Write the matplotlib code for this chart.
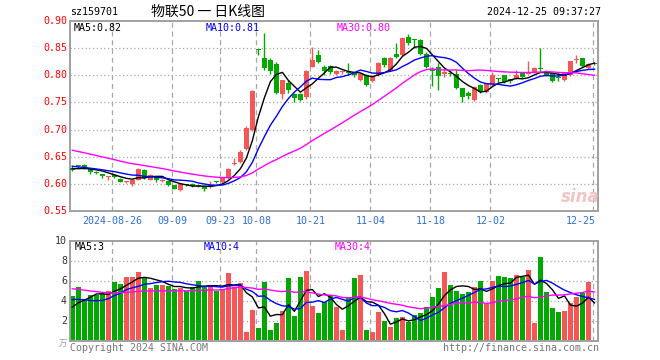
import matplotlib
matplotlib.use("Agg")
import matplotlib.pyplot as plt
import numpy as np
import pandas as pd

# trading days 2024-08-15 .. 2024-12-25 (mid-autumn + national day closed)
holidays = ["2024-09-16", "2024-09-17"] + [f"2024-10-0{d}" for d in range(1, 8)]
days = [d for d in pd.bdate_range("2024-08-15", "2024-12-25") if d.strftime("%Y-%m-%d") not in holidays]
dates = [d.strftime("%m-%d") for d in days]

open_ = [0.630, 0.633, 0.634, 0.627, 0.622, 0.618, 0.612, 0.616, 0.609, 0.604,
         0.599, 0.608, 0.626, 0.608, 0.612, 0.606, 0.605, 0.597, 0.588, 0.598,
         0.599, 0.597, 0.596, 0.594, 0.605, 0.604, 0.610, 0.637, 0.640, 0.664,
         0.699, 0.848, 0.831, 0.828, 0.821, 0.765, 0.785, 0.765, 0.765, 0.760,
         0.816, 0.837, 0.815, 0.817, 0.803, 0.806, 0.806, 0.8035, 0.791, 0.800,
         0.790, 0.800, 0.831, 0.810, 0.840, 0.837, 0.870, 0.866, 0.865, 0.8386,
         0.811, 0.8157, 0.802, 0.804, 0.8022, 0.7758, 0.7666, 0.7543, 0.782, 0.7696,
         0.782, 0.7945, 0.8004, 0.7925, 0.7955, 0.8035, 0.8028, 0.806, 0.8139, 0.8078,
         0.8035, 0.795, 0.7911, 0.8004, 0.8275, 0.8311, 0.8127, 0.822]
high = [0.632, 0.635, 0.636, 0.628, 0.624, 0.619, 0.615, 0.617, 0.610, 0.606,
        0.608, 0.630, 0.627, 0.618, 0.613, 0.609, 0.606, 0.598, 0.600, 0.599,
        0.602, 0.598, 0.597, 0.605, 0.606, 0.611, 0.629, 0.648, 0.662, 0.706,
        0.772, 0.848, 0.878, 0.832, 0.825, 0.792, 0.791, 0.768, 0.767, 0.810,
        0.853, 0.847, 0.819, 0.819, 0.810, 0.810, 0.822, 0.806, 0.804, 0.803,
        0.800, 0.825, 0.833, 0.833, 0.859, 0.870, 0.876, 0.866, 0.867, 0.843,
        0.816, 0.822, 0.811, 0.8096, 0.8096, 0.777, 0.7715, 0.780, 0.784, 0.786,
        0.8066, 0.7945, 0.801, 0.793, 0.8096, 0.805, 0.826, 0.815, 0.8496, 0.810,
        0.804, 0.8035, 0.806, 0.827, 0.8373, 0.832, 0.822, 0.824]
low = [0.624, 0.630, 0.628, 0.618, 0.619, 0.610, 0.608, 0.611, 0.603, 0.601,
       0.596, 0.607, 0.609, 0.607, 0.604, 0.604, 0.596, 0.590, 0.587, 0.596,
       0.594, 0.595, 0.586, 0.593, 0.602, 0.602, 0.609, 0.634, 0.639, 0.663,
       0.698, 0.837, 0.810, 0.803, 0.766, 0.757, 0.767, 0.751, 0.752, 0.756,
       0.815, 0.822, 0.800, 0.803, 0.800, 0.802, 0.800, 0.797, 0.789, 0.780,
       0.788, 0.799, 0.816, 0.808, 0.832, 0.835, 0.856, 0.850, 0.838, 0.814,
       0.780, 0.773, 0.796, 0.7985, 0.775, 0.751, 0.757, 0.752, 0.768, 0.768,
       0.781, 0.7883, 0.786, 0.786, 0.794, 0.795, 0.802, 0.805, 0.8085, 0.799,
       0.788, 0.790, 0.790, 0.799, 0.822, 0.816, 0.812, 0.819]
close = [0.625, 0.632, 0.630, 0.622, 0.620, 0.615, 0.614, 0.613, 0.604, 0.605,
         0.607, 0.628, 0.610, 0.616, 0.608, 0.607, 0.597, 0.591, 0.599, 0.597,
         0.596, 0.596, 0.591, 0.597, 0.604, 0.610, 0.628, 0.638, 0.659, 0.702,
         0.771, 0.847, 0.813, 0.808, 0.768, 0.791, 0.773, 0.7585, 0.754, 0.808,
         0.828, 0.824, 0.808, 0.8065, 0.808, 0.807, 0.805, 0.800, 0.802, 0.782,
         0.798, 0.822, 0.819, 0.831, 0.834, 0.868, 0.860, 0.865, 0.839, 0.8157,
         0.808, 0.7985, 0.806, 0.803, 0.7758, 0.7592, 0.7616, 0.7788, 0.7696, 0.785,
         0.8004, 0.794, 0.788, 0.7888, 0.8004, 0.796, 0.8047, 0.8139, 0.8108, 0.8004,
         0.7899, 0.7943, 0.8047, 0.8262, 0.8285, 0.817, 0.8207, 0.820]
volume = [4.5, 5.4, 4.2, 4.57, 4.57, 4.67, 5.0, 5.83, 5.67, 6.4,
          6.4, 6.83, 6.27, 5.23, 5.6, 5.6, 5.43, 5.13, 5.23, 5.0,
          5.4, 6.0, 5.5, 5.5, 5.0, 5.2, 6.73, 5.33, 5.73, 0.9,
          3.1, 1.23, 5.83, 1.1, 1.73, 3.0, 6.23, 2.5, 6.33, 7.0,
          3.43, 2.73, 3.9, 4.6, 3.33, 1.1, 4.4, 6.23, 6.6, 1.1,
          0.83, 2.9, 2.0, 1.33, 2.23, 2.33, 1.9, 2.6, 2.73, 3.33,
          4.33, 5.23, 6.83, 5.6, 5.0, 4.67, 4.9, 5.33, 5.93, 3.73,
          5.93, 6.5, 6.33, 6.23, 6.6, 6.4, 7.1, 1.77, 8.33, 4.9,
          3.23, 2.83, 3.0, 3.73, 4.4, 4.73, 5.83, 0.1]
# sessions before 08-15, only feed the moving averages
prior_close = [0.705, 0.700, 0.698, 0.695, 0.690, 0.688, 0.692, 0.685, 0.680, 0.676,
               0.672, 0.668, 0.670, 0.665, 0.662, 0.660, 0.664, 0.658, 0.655, 0.652,
               0.645, 0.640, 0.636, 0.633, 0.631, 0.632, 0.628, 0.627, 0.628]
prior_volume = [6.9, 6.7, 7.0, 6.6, 6.8, 6.8, 5.5, 5.0, 5.6, 5.2,
                4.9, 5.4, 5.3, 5.1, 5.6, 5.0, 5.2, 5.4, 5.1, 5.0,
                5.3, 4.6, 5.2, 4.8, 4.45, 3.2, 2.9, 3.1, 2.95]

tick_dates = ["08-26", "09-09", "09-23", "10-08", "10-21", "11-04", "11-18", "12-02", "12-25"]
tick_text = ["2024-08-26", "09-09", "09-23", "10-08", "10-21", "11-04", "11-18", "12-02", "12-25"]
price_ticks = [0.55, 0.60, 0.65, 0.70, 0.75, 0.80, 0.85, 0.90]
vol_ticks = [2, 4, 6, 8, 10]

RED, GREEN = "#f55757", "#00a800"
GRID = "#a8a8a8"
MONO = "DejaVu Sans Mono"
FS = 7.2
W, H = 660, 360


def rect(x0, y0, x1, y1):
    return [x0 / W, 1 - y1 / H, (x1 - x0) / W, (y1 - y0) / H]


def ma(series, prior, n):
    s = pd.Series(prior + series).rolling(n).mean().to_numpy()
    return s[len(prior):]


fig = plt.figure(figsize=(6.6, 3.6), dpi=100)
ax = fig.add_axes(rect(70, 21, 597.5, 211))
axv = fig.add_axes(rect(70, 240.5, 597.5, 340.5))

x = np.arange(len(close))
o, c, h, l = map(np.array, (open_, close, high, low))
up = c >= o
cols = np.where(up, RED, GREEN)
grid_x = [dates.index(d) - 0.33 for d in tick_dates]

for a in (ax, axv):
    a.set_xlim(-0.38, 87.5)
    a.set_xticks([]); a.set_yticks([])
    for s in a.spines.values():
        s.set_color("#a0a0a0"); s.set_linewidth(1.4)
    for gx in grid_x:
        a.axvline(gx, color=GRID, lw=0.9, ls=(0, (4, 3)), zorder=0)

ax.set_ylim(0.55, 0.90)
for p in price_ticks[1:-1]:
    ax.axhline(p, color=GRID, lw=0.9, ls=(0, (1, 2)), zorder=0)
axv.set_ylim(0, 10)
for v in vol_ticks[:-1]:
    axv.axhline(v, color=GRID, lw=0.9, ls=(0, (1, 2)), zorder=0)

# candles
ax.vlines(x, l, h, colors=cols, lw=1.0, zorder=2)
body = np.maximum(np.abs(c - o), 0.0019)
ax.bar(x, body, 0.75, bottom=np.minimum(o, c), color=cols, lw=0, zorder=3)

closes = list(close)
ax.plot(x, ma(closes, prior_close, 5), color="black", lw=1.0, zorder=4)
ax.plot(x, ma(closes, prior_close, 10), color="#0000ff", lw=1.0, zorder=4)
ax.plot(x, ma(closes, prior_close, 30), color="#ff00ff", lw=1.0, zorder=4)

axv.bar(x, volume, 0.82, color=cols, lw=0, zorder=2)
axv.plot(x, ma(volume, prior_volume, 5), color="black", lw=1.0, zorder=4)
axv.plot(x, ma(volume, prior_volume, 10), color="#0000ff", lw=1.0, zorder=4)
axv.plot(x, ma(volume, prior_volume, 30), color="#ff00ff", lw=1.0, zorder=4)


def ftxt(px, py, s, **kw):
    kw.setdefault("family", MONO)
    kw.setdefault("fontsize", FS)
    fig.text(px / W, 1 - py / H, s, **kw)


for p in price_ticks:
    ftxt(67, 21 + (0.90 - p) * 542.9, f"{p:.2f}", color="red", ha="right", va="center")
for v in vol_ticks:
    ftxt(67, 340.5 - v * 10, f"{v}", color="#333333", ha="right", va="center")
ftxt(63, 343, "万", family="Noto Sans CJK SC", fontsize=6, color="#999999", ha="center", va="center")

for d, t in zip(tick_dates, tick_text):
    gx = 72.3 + 6 * dates.index(d) - 2
    if d == tick_dates[-1]:
        ftxt(596, 221, t, color="#2f6fd6", ha="right", va="center")
    else:
        ftxt(gx, 221, t, color="#2f6fd6", ha="center", va="center")

ftxt(70, 12, "sz159701", color="black", va="center")
ftxt(208, 12, "物联50 一 日K线图", family=["Noto Sans CJK SC", "DejaVu Sans"], fontsize=10,
     color="black", ha="center", va="center")
ftxt(601, 12, "2024-12-25 09:37:27", color="black", ha="right", va="center")

ftxt(74, 28, "MA5:0.82", color="black", va="center")
ftxt(206, 28, "MA10:0.81", color="#0000ff", va="center")
ftxt(337, 28, "MA30:0.80", color="#ff00ff", va="center")
ftxt(75, 247, "MA5:3", color="black", va="center")
ftxt(204, 247, "MA10:4", color="#0000ff", va="center")
ftxt(335, 247, "MA30:4", color="#ff00ff", va="center")

ftxt(70, 348, "Copyright 2024 SINA.COM", color="#777777", va="center")
ftxt(599, 348, "http://finance.sina.com.cn", color="#777777", ha="right", va="center")
ftxt(580, 197, "sina", family="DejaVu Sans", fontsize=12, style="italic", weight="bold",
     color="#f2c4c4", ha="center", va="center")

fig.savefig("out.png", dpi=100)
